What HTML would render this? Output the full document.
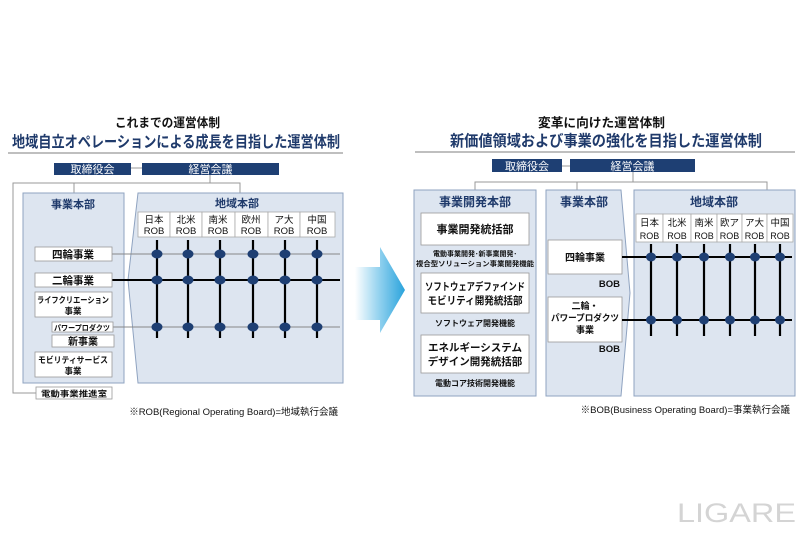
<!DOCTYPE html>
<html><head><meta charset="utf-8"><style>
html,body{margin:0;padding:0;background:#fff;}
svg{display:block;font-family:"Liberation Sans","Noto Sans CJK JP",sans-serif;}
</style></head><body>
<svg width="800" height="533" viewBox="0 0 800 533" xmlns="http://www.w3.org/2000/svg">
<defs>
<linearGradient id="ag" x1="0" x2="1" y1="0" y2="0">
<stop offset="0" stop-color="#ffffff"/><stop offset="0.5" stop-color="#8fd0ee"/><stop offset="1" stop-color="#2aa3dc"/>
</linearGradient>
</defs>

<!-- LEFT TITLES -->
<text x="115" y="127" font-size="12.5" font-weight="bold" fill="#111" textLength="105" lengthAdjust="spacingAndGlyphs">これまでの運営体制</text>
<text x="12" y="147" font-size="15.5" font-weight="bold" fill="#1f3a6b" textLength="328" lengthAdjust="spacingAndGlyphs">地域自立オペレーションによる成長を目指した運営体制</text>
<line x1="8" y1="153" x2="343" y2="153" stroke="#aaa" stroke-width="1.5"/>

<line x1="131" y1="168" x2="142" y2="168" stroke="#999"/>
<line x1="210" y1="174" x2="210" y2="183" stroke="#999"/>
<polyline points="240,193 240,183 13,183 13,393 37,393" fill="none" stroke="#999"/>
<line x1="74" y1="183" x2="74" y2="193" stroke="#999"/>
<rect x="54" y="163" width="77" height="12" fill="#1e3f73"/>
<text x="92.5" y="173" font-size="11" fill="#fff" text-anchor="middle">取締役会</text>
<rect x="142" y="163" width="137" height="12" fill="#1e3f73"/>
<text x="210.5" y="173" font-size="11" fill="#fff" text-anchor="middle">経営会議</text>

<rect x="23" y="193" width="101" height="190" fill="#dde5f0" stroke="#8fa3c0"/>
<text x="73" y="208" font-size="11" font-weight="bold" fill="#1f3a6b" text-anchor="middle">事業本部</text>
<polygon points="138,193 343,193 343,383 138,383 128,280" fill="#dde5f0" stroke="#8fa3c0"/>
<text x="237" y="207" font-size="11" font-weight="bold" fill="#1f3a6b" text-anchor="middle">地域本部</text>
<g fill="#fff" stroke="#aaa" stroke-width="0.8">
<rect x="138" y="212" width="32" height="25"/><rect x="170" y="212" width="32" height="25"/><rect x="202" y="212" width="33" height="25"/>
<rect x="235" y="212" width="33" height="25"/><rect x="268" y="212" width="32" height="25"/><rect x="300" y="212" width="35" height="25"/>
</g>
<g font-size="9.5" fill="#111" text-anchor="middle">
<text x="154" y="223">日本</text><text x="154" y="234">ROB</text>
<text x="186" y="223">北米</text><text x="186" y="234">ROB</text>
<text x="218" y="223">南米</text><text x="218" y="234">ROB</text>
<text x="251" y="223">欧州</text><text x="251" y="234">ROB</text>
<text x="284" y="223">ア大</text><text x="284" y="234">ROB</text>
<text x="317" y="223">中国</text><text x="317" y="234">ROB</text>
</g>
<line x1="112" y1="254" x2="340" y2="254" stroke="#888" stroke-width="1"/>
<line x1="112" y1="280" x2="340" y2="280" stroke="#000" stroke-width="2"/>
<line x1="112" y1="327" x2="340" y2="327" stroke="#888" stroke-width="1"/>
<g stroke="#000" stroke-width="2.2">
<line x1="157" y1="240" x2="157" y2="338"/><line x1="188" y1="240" x2="188" y2="338"/><line x1="220" y1="240" x2="220" y2="338"/>
<line x1="253" y1="240" x2="253" y2="338"/><line x1="285" y1="240" x2="285" y2="338"/><line x1="317" y1="240" x2="317" y2="338"/>
</g>
<g fill="#1e3f73">
<ellipse cx="157" cy="254" rx="5.5" ry="4.5"/><ellipse cx="188" cy="254" rx="5.5" ry="4.5"/><ellipse cx="220" cy="254" rx="5.5" ry="4.5"/><ellipse cx="253" cy="254" rx="5.5" ry="4.5"/><ellipse cx="285" cy="254" rx="5.5" ry="4.5"/><ellipse cx="317" cy="254" rx="5.5" ry="4.5"/>
<ellipse cx="157" cy="280" rx="5.5" ry="4.5"/><ellipse cx="188" cy="280" rx="5.5" ry="4.5"/><ellipse cx="220" cy="280" rx="5.5" ry="4.5"/><ellipse cx="253" cy="280" rx="5.5" ry="4.5"/><ellipse cx="285" cy="280" rx="5.5" ry="4.5"/><ellipse cx="317" cy="280" rx="5.5" ry="4.5"/>
<ellipse cx="157" cy="327" rx="5.5" ry="4.5"/><ellipse cx="188" cy="327" rx="5.5" ry="4.5"/><ellipse cx="220" cy="327" rx="5.5" ry="4.5"/><ellipse cx="253" cy="327" rx="5.5" ry="4.5"/><ellipse cx="285" cy="327" rx="5.5" ry="4.5"/><ellipse cx="317" cy="327" rx="5.5" ry="4.5"/>
</g>
<g fill="#fff" stroke="#999" stroke-width="0.8">
<rect x="35" y="247" width="77" height="14"/><rect x="35" y="273" width="77" height="14"/>
<rect x="35" y="292" width="77" height="25"/><rect x="52" y="322" width="61" height="10"/>
<rect x="52" y="335" width="62" height="12"/><rect x="35" y="352" width="77" height="25"/>
<rect x="36" y="387" width="76" height="12"/>
</g>
<g fill="#111" text-anchor="middle" font-weight="bold">
<text x="73" y="258" font-size="10.5">四輪事業</text>
<text x="73" y="284" font-size="10.5">二輪事業</text>
<text x="73" y="303" font-size="8.5" textLength="72" lengthAdjust="spacingAndGlyphs">ライフクリエーション</text>
<text x="73" y="314" font-size="8.5">事業</text>
<text x="82" y="330.5" font-size="7.5" textLength="56" lengthAdjust="spacingAndGlyphs">パワープロダクツ</text>
<text x="83" y="345" font-size="10">新事業</text>
<text x="73" y="363" font-size="8.5" textLength="70" lengthAdjust="spacingAndGlyphs">モビリティサービス</text>
<text x="73" y="374" font-size="8.5">事業</text>
<text x="74" y="396.5" font-size="8" textLength="66" lengthAdjust="spacingAndGlyphs">電動事業推進室</text>
</g>
<text x="338" y="415" font-size="9.5" fill="#111" text-anchor="end">※ROB(Regional Operating Board)=地域執行会議</text>

<polygon points="355,267 380,267 380,247 405,290 380,333 380,320 355,320" fill="url(#ag)"/>

<!-- RIGHT TITLES -->
<text x="538" y="127" font-size="12.5" font-weight="bold" fill="#111" textLength="127" lengthAdjust="spacingAndGlyphs">変革に向けた運営体制</text>
<text x="450" y="146" font-size="15.5" font-weight="bold" fill="#1f3a6b" textLength="312" lengthAdjust="spacingAndGlyphs">新価値領域および事業の強化を目指した運営体制</text>
<line x1="415" y1="152" x2="795" y2="152" stroke="#aaa" stroke-width="1.5"/>

<line x1="562" y1="166" x2="570" y2="166" stroke="#999"/>
<line x1="633" y1="172" x2="633" y2="182" stroke="#999"/>
<polyline points="475,190 475,182 767,182 767,190" fill="none" stroke="#999"/>
<line x1="577" y1="182" x2="577" y2="190" stroke="#999"/>
<rect x="492" y="159" width="70" height="13" fill="#1e3f73"/>
<text x="527" y="170" font-size="11" fill="#fff" text-anchor="middle">取締役会</text>
<rect x="570" y="159" width="125" height="13" fill="#1e3f73"/>
<text x="632.5" y="170" font-size="11" fill="#fff" text-anchor="middle">経営会議</text>

<rect x="414" y="190" width="122" height="206" fill="#dde5f0" stroke="#8fa3c0"/>
<text x="475" y="206" font-size="12" font-weight="bold" fill="#1f3a6b" text-anchor="middle">事業開発本部</text>
<polygon points="546,190 621,190 630,293 621,396 546,396" fill="#dde5f0" stroke="#8fa3c0"/>
<text x="584" y="206" font-size="12" font-weight="bold" fill="#1f3a6b" text-anchor="middle">事業本部</text>
<rect x="634" y="190" width="161" height="206" fill="#dde5f0" stroke="#8fa3c0"/>
<text x="714" y="206" font-size="12" font-weight="bold" fill="#1f3a6b" text-anchor="middle">地域本部</text>

<g fill="#fff" stroke="#999" stroke-width="0.8">
<rect x="421" y="213" width="108" height="32"/><rect x="421" y="273" width="108" height="40"/><rect x="421" y="335" width="108" height="38"/>
<rect x="548" y="240" width="74" height="34"/><rect x="548" y="297" width="74" height="45"/>
</g>
<g fill="#111" text-anchor="middle" font-weight="bold">
<text x="475" y="233" font-size="11">事業開発統括部</text>
<text x="475" y="256" font-size="7">電動事業開発･新事業開発･</text>
<text x="475" y="266" font-size="7" textLength="118" lengthAdjust="spacingAndGlyphs">複合型ソリューション事業開発機能</text>
<text x="475" y="290" font-size="10.5" textLength="100" lengthAdjust="spacingAndGlyphs">ソフトウェアデファインド</text>
<text x="475" y="304" font-size="10.5" textLength="95" lengthAdjust="spacingAndGlyphs">モビリティ開発統括部</text>
<text x="475" y="326" font-size="8">ソフトウェア開発機能</text>
<text x="475" y="351" font-size="10.5">エネルギーシステム</text>
<text x="475" y="365" font-size="10.5">デザイン開発統括部</text>
<text x="475" y="386" font-size="8">電動コア技術開発機能</text>
<text x="585" y="261" font-size="10">四輪事業</text>
<text x="585" y="309" font-size="9">二輪・</text>
<text x="585" y="321" font-size="9" textLength="68" lengthAdjust="spacingAndGlyphs">パワープロダクツ</text>
<text x="585" y="333" font-size="9">事業</text>
<text x="620" y="287" font-size="9.5" text-anchor="end">BOB</text>
<text x="620" y="352" font-size="9.5" text-anchor="end">BOB</text>
</g>
<g fill="#fff" stroke="#aaa" stroke-width="0.8">
<rect x="636" y="214" width="27" height="28"/><rect x="663" y="214" width="28" height="28"/><rect x="691" y="214" width="26" height="28"/>
<rect x="717" y="214" width="25" height="28"/><rect x="742" y="214" width="25" height="28"/><rect x="767" y="214" width="26" height="28"/>
</g>
<g font-size="9.5" fill="#111" text-anchor="middle">
<text x="649.5" y="226">日本</text><text x="649.5" y="239" font-size="9">ROB</text>
<text x="677" y="226">北米</text><text x="677" y="239" font-size="9">ROB</text>
<text x="704" y="226">南米</text><text x="704" y="239" font-size="9">ROB</text>
<text x="729.5" y="226">欧ア</text><text x="729.5" y="239" font-size="9">ROB</text>
<text x="754.5" y="226">ア大</text><text x="754.5" y="239" font-size="9">ROB</text>
<text x="780" y="226">中国</text><text x="780" y="239" font-size="9">ROB</text>
</g>
<line x1="622" y1="257" x2="792" y2="257" stroke="#000" stroke-width="2"/>
<line x1="622" y1="320" x2="792" y2="320" stroke="#000" stroke-width="2"/>
<g stroke="#000" stroke-width="2.2">
<line x1="651" y1="244" x2="651" y2="336"/><line x1="677" y1="244" x2="677" y2="336"/><line x1="704" y1="244" x2="704" y2="336"/>
<line x1="730" y1="244" x2="730" y2="336"/><line x1="755" y1="244" x2="755" y2="336"/><line x1="780" y1="244" x2="780" y2="336"/>
</g>
<g fill="#1e3f73">
<ellipse cx="651" cy="257" rx="5" ry="4.5"/><ellipse cx="677" cy="257" rx="5" ry="4.5"/><ellipse cx="704" cy="257" rx="5" ry="4.5"/><ellipse cx="730" cy="257" rx="5" ry="4.5"/><ellipse cx="755" cy="257" rx="5" ry="4.5"/><ellipse cx="780" cy="257" rx="5" ry="4.5"/>
<ellipse cx="651" cy="320" rx="5" ry="4.5"/><ellipse cx="677" cy="320" rx="5" ry="4.5"/><ellipse cx="704" cy="320" rx="5" ry="4.5"/><ellipse cx="730" cy="320" rx="5" ry="4.5"/><ellipse cx="755" cy="320" rx="5" ry="4.5"/><ellipse cx="780" cy="320" rx="5" ry="4.5"/>
</g>
<text x="790" y="413" font-size="9.5" fill="#111" text-anchor="end">※BOB(Business Operating Board)=事業執行会議</text>

<text x="677" y="522" font-size="27" fill="#d4d4d4" textLength="119" lengthAdjust="spacingAndGlyphs">LIGARE</text>
</svg>
</body></html>
